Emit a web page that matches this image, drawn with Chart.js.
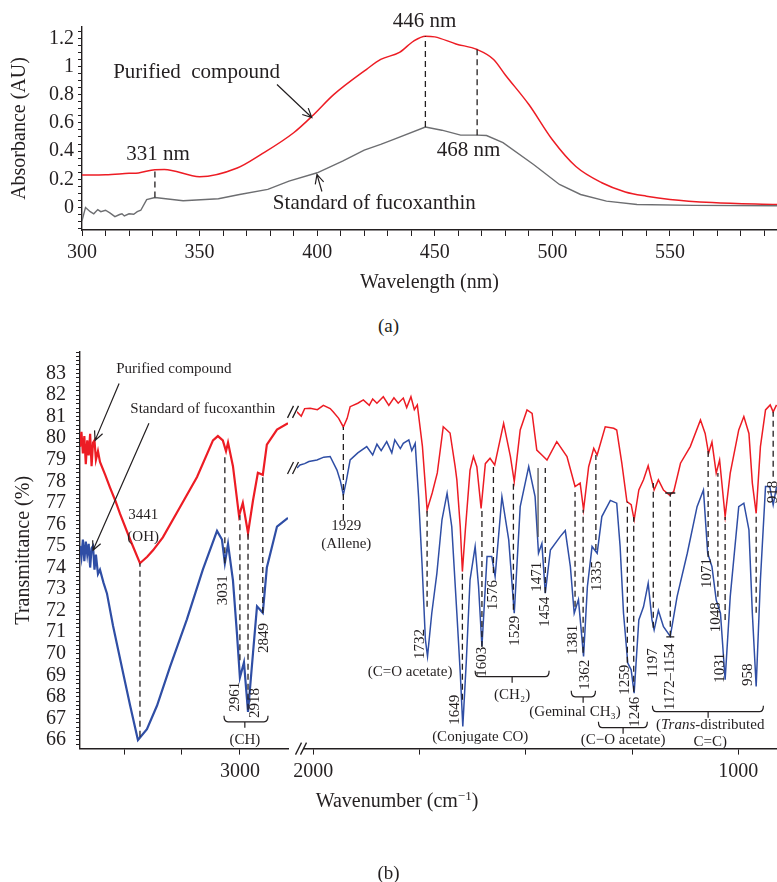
<!DOCTYPE html>
<html>
<head>
<meta charset="utf-8">
<title>Fucoxanthin UV-Vis and IR spectra</title>
<script src="https://cdn.jsdelivr.net/npm/chart.js@4.4.1/dist/chart.umd.min.js"></script>
<style>
  body { margin: 0; background: #fff; }
  #wrap { position: relative; width: 777px; height: 882px; overflow: hidden; font-family: 'Liberation Serif', 'Times New Roman', serif; color: #231f20; }
  #wrap canvas { position: absolute; left: 0; }
  .cap { position: absolute; left: 0; width: 777px; text-align: center; font-size: 19px; line-height: 22px; }
  .xt { position: absolute; left: 397px; top: 800px; transform: translate(-50%, -50%); font-size: 20px; white-space: nowrap; }
  .xt sup { font-size: 13px; }
</style>
</head>
<body>
<div id="wrap">
  <canvas id="uvChart" width="777" height="300" style="top:0"></canvas>
  <div class="cap" style="top:315px">(a)</div>
  <canvas id="irRight" width="777" height="552" style="top:330px"></canvas>
  <canvas id="irLeft" width="290" height="552" style="top:330px"></canvas>
  <div class="xt">Wavenumber (cm<sup>−1</sup>)</div>
  <div class="cap" style="top:862px">(b)</div>
</div>
<script>
// ── (a) UV-Vis absorbance ───────────────────────────────────
const uvRedNm  = [300, 310, 320, 324, 331, 335, 350, 366, 376, 390, 398, 407, 421, 427, 435, 441, 446, 450, 459, 468, 475, 480, 490, 500, 510, 521, 531, 540, 550, 568, 595.5];
const uvRedAbs = [0.23, 0.232, 0.242, 0.245, 0.268, 0.27, 0.218, 0.28, 0.375, 0.53, 0.65, 0.80, 0.98, 1.05, 1.10, 1.18, 1.215, 1.21, 1.16, 1.12, 1.05, 0.94, 0.73, 0.48, 0.29, 0.175, 0.11, 0.08, 0.057, 0.035, 0.02];
const uvStdNm  = [300, 301.5, 303.5, 305, 306.7, 308, 310, 312, 314, 316, 317, 318, 320, 322, 323.5, 325, 327.5, 331, 343, 358, 367, 379, 388, 400, 411, 420, 427, 432, 446, 453, 461, 468, 472, 479, 492, 503, 512, 523, 536, 560, 595.5];
const uvStdAbs = [-0.095, 0.0, -0.03, -0.045, -0.015, -0.03, -0.02, -0.04, -0.065, -0.05, -0.045, -0.06, -0.045, -0.048, -0.03, -0.02, 0.055, 0.07, 0.047, 0.062, 0.092, 0.128, 0.187, 0.246, 0.33, 0.406, 0.447, 0.48, 0.57, 0.548, 0.513, 0.513, 0.51, 0.46, 0.305, 0.163, 0.092, 0.045, 0.021, 0.015, 0.012];
const uvNmLabels  = [300, 350, 400, 450, 500, 550];
const uvAbsLabels = [0, 0.2, 0.4, 0.6, 0.8, 1, 1.2];

// ── (b) IR transmittance, left segment (O–H / C–H region) ─────
const irRedLX  = [3552, 3547, 3542, 3537, 3532, 3527, 3522, 3517, 3512, 3507, 3502, 3497, 3490, 3483, 3465, 3448, 3430, 3414, 3379, 3345, 3320, 3300, 3266, 3207, 3148, 3093, 3076, 3059, 3048, 3041, 3024, 3003, 2990, 2972, 2955, 2938, 2921, 2907, 2872, 2834];
const irRedLY  = [79.6, 80.3, 79.3, 80.1, 78.8, 79.9, 79.2, 80.2, 78.7, 79.8, 79.9, 79.0, 79.4, 78.9, 78.3, 77.7, 77.1, 76.5, 75.3, 74.2, 74.5, 74.8, 75.4, 76.8, 78.2, 79.9, 80.1, 79.9, 79.4, 79.8, 78.7, 76.4, 77.0, 75.6, 77.1, 78.4, 78.3, 79.7, 80.4, 80.7];
const irBlueLX = [3552, 3547, 3542, 3537, 3532, 3527, 3522, 3517, 3512, 3507, 3502, 3497, 3490, 3483, 3471, 3459, 3438, 3403, 3379, 3352, 3321, 3286, 3241, 3183, 3128, 3079, 3062, 3052, 3041, 3024, 3010, 3000, 2986, 2972, 2955, 2941, 2921, 2907, 2872, 2834];
const irBlueLY = [75.0, 74.5, 75.3, 74.3, 75.2, 74.6, 75.1, 74.0, 74.9, 75.0, 73.9, 74.6, 73.7, 73.9, 73.3, 72.8, 71.3, 69.1, 67.6, 66.0, 66.5, 67.6, 69.4, 71.6, 73.9, 75.7, 75.3, 74.2, 75.1, 73.4, 70.9, 68.9, 69.6, 67.3, 70.0, 72.2, 71.9, 74.0, 75.9, 76.3];

// ── (b) IR transmittance, right segment (fingerprint region) ──
const irRedRX  = [2038, 2028, 2020, 2007, 1990, 1976, 1960, 1953, 1940, 1929, 1920, 1913, 1895, 1882, 1868, 1860, 1850, 1835, 1822, 1810, 1800, 1788, 1780, 1770, 1762, 1755, 1743, 1732, 1720, 1708, 1694, 1678, 1666, 1662, 1654, 1649, 1642, 1631, 1623, 1615, 1605, 1595, 1584, 1573, 1552, 1536, 1527, 1513, 1497, 1485, 1474, 1462, 1450, 1427, 1403, 1384, 1372, 1364, 1352, 1340, 1332, 1313, 1293, 1286, 1274, 1262, 1252, 1245, 1234, 1223, 1212, 1206, 1198, 1188, 1176, 1162, 1152, 1136, 1113, 1089, 1078, 1070, 1062, 1052, 1044, 1031, 1019, 999, 987, 975, 967, 958, 948, 936, 925, 918, 910];
const irRedRY  = [81.2, 81.0, 81.35, 81.37, 81.3, 81.5, 81.35, 81.2, 80.9, 80.5, 80.9, 81.44, 81.6, 81.75, 81.5, 81.8, 81.6, 81.9, 81.5, 81.85, 81.6, 81.84, 81.4, 81.9, 81.3, 81.52, 79.6, 76.66, 77.44, 78.37, 80.51, 80.22, 78.66, 78.05, 75.88, 73.8, 75.73, 78.5, 79.13, 78.66, 76.73, 78.8, 79.05, 78.74, 80.67, 79.13, 77.97, 80.36, 81.29, 81.13, 79.43, 79.2, 78.97, 79.82, 79.13, 77.74, 77.9, 76.66, 78.66, 79.51, 79.2, 80.51, 80.44, 80.36, 78.82, 77.04, 76.9, 76.2, 77.58, 78.05, 78.7, 78.2, 77.58, 78.05, 77.58, 77.35, 77.5, 78.82, 79.59, 80.82, 80.2, 79.28, 79.8, 78.36, 78.97, 76.35, 78.36, 80.36, 80.98, 80.2, 77.9, 76.5, 79.59, 81.29, 81.52, 81.2, 81.52];
const irBlueRX = [2038, 2031, 2020, 2010, 1991, 1975, 1960, 1944, 1936, 1929, 1922, 1913, 1895, 1874, 1860, 1850, 1840, 1827, 1815, 1808, 1795, 1788, 1775, 1768, 1760, 1752, 1744, 1736, 1731, 1721, 1709, 1697, 1685, 1674, 1662, 1654, 1648, 1640, 1631, 1619, 1611, 1603, 1591, 1580, 1572, 1556, 1540, 1527, 1513, 1493, 1478, 1470, 1462, 1454, 1442, 1419, 1407, 1395, 1386, 1376, 1364, 1355, 1344, 1332, 1321, 1301, 1286, 1278, 1270, 1260, 1252, 1245, 1234, 1223, 1212, 1203, 1198, 1188, 1176, 1160, 1144, 1120, 1097, 1082, 1072, 1062, 1052, 1042, 1031, 1019, 999, 987, 975, 967, 958, 948, 936, 926, 918, 910];
const irBlueRY = [78.6, 78.74, 78.8, 78.9, 78.97, 79.1, 79.13, 78.5, 78.0, 77.35, 78.0, 78.97, 79.3, 79.59, 79.2, 79.7, 79.4, 79.82, 79.3, 79.9, 79.5, 79.74, 79.9, 79.4, 79.74, 77.27, 74.19, 70.64, 69.87, 71.87, 73.72, 76.2, 77.43, 75.88, 71.87, 69.1, 66.63, 69.56, 73.42, 74.96, 73.12, 70.34, 74.5, 74.5, 73.57, 77.27, 75.27, 71.87, 76.81, 78.66, 77.27, 74.65, 75.1, 72.8, 74.8, 75.42, 75.7, 74.03, 71.87, 72.5, 69.87, 73.1, 74.96, 74.65, 76.35, 77.1, 76.97, 74.96, 71.87, 69.56, 69.25, 68.17, 71.56, 72.17, 73.26, 71.56, 71.1, 72.0, 71.25, 70.8, 72.64, 74.65, 76.81, 77.58, 74.65, 74.03, 72.49, 71.87, 68.79, 72.64, 76.81, 76.97, 75.73, 71.87, 68.48, 73.42, 77.74, 77.74, 76.89, 77.74];

const irLeftTicks   = [3400, 3200, 3000];
const irLeftLabels  = [3000];
const irRightTicks  = [2000, 1750, 1500, 1250, 1000];
const irRightLabels = [2000, 1000];
const irTLabels     = [66, 67, 68, 69, 70, 71, 72, 73, 74, 75, 76, 77, 78, 79, 80, 81, 82, 83];

// ── Peak annotations ────────────────────────────────────────
const uvNotes = {
  dashes: [{ x: 331, y1: 0.07, y2: 0.27 }, { x: 446, y1: 0.57, y2: 1.215 }, { x: 468, y1: 0.513, y2: 1.12 }],
  texts: [
    { x: 332.3, y: 0.376, t: '331 nm' }, { x: 445.6, y: 1.32, t: '446 nm' }, { x: 464.3, y: 0.406, t: '468 nm' },
    { x: 348.7, y: 0.957, t: 'Purified  compound' }, { x: 424.3, y: 0.028, t: 'Standard of fucoxanthin' }
  ],
  arrows: [{ x1: 382.9, y1: 0.872, x2: 397.7, y2: 0.638 }, { x1: 402, y1: 0.113, x2: 399.9, y2: 0.234 }]
};

const irLeftNotes = {
  dashes: [
    { x: 3345, y1: 66.15, y2: 74.2 }, { x: 3052, y1: 74.2, y2: 79.3 }, { x: 3000, y1: 69.7, y2: 76.43 },
    { x: 2972, y1: 67.4, y2: 75.64 }, { x: 2921, y1: 71.89, y2: 78.19 }
  ],
  texts: [
    { x: 3334, y: 76.43, t: '3441' }, { x: 3334, y: 75.4, t: '(OH)' },
    { x: 3059, y: 72.95, t: '3031', rot: true }, { x: 3017, y: 68.0, t: '2961', rot: true },
    { x: 2948, y: 67.72, t: '2918', rot: true }, { x: 2917, y: 70.73, t: '2849', rot: true },
    { x: 2983, y: 66.0, t: '(CH)' },
    { x: 3228, y: 83.23, t: 'Purified compound' }, { x: 3128, y: 81.33, t: 'Standard of fucoxanthin' }
  ],
  braces: [{ x1: 3055, x2: 2903, xm: 2983, y: 66.84 }],
  arrows: [{ x1: 3417, y1: 82.54, x2: 3500, y2: 79.9 }, { x1: 3314, y1: 80.69, x2: 3507, y2: 74.8 }]
};

const irRightNotes = {
  dashes: [
    { x: 1929, y1: 76.19, y2: 80.5 }, { x: 1732, y1: 72.17, y2: 76.66 }, { x: 1649, y1: 67.86, y2: 73.74 },
    { x: 1603, y1: 70.31, y2: 76.75 }, { x: 1576, y1: 73.74, y2: 78.74 }, { x: 1529, y1: 72.03, y2: 77.95 },
    { x: 1471, y1: 75.4, y2: 78.6, solid: true }, { x: 1454, y1: 72.81, y2: 78.6 },
    { x: 1384, y1: 72.17, y2: 77.49 }, { x: 1365, y1: 70.04, y2: 76.66 }, { x: 1335, y1: 74.8, y2: 79.2 },
    { x: 1261, y1: 69.58, y2: 77.03 }, { x: 1246, y1: 68.23, y2: 76.33 }, { x: 1200, y1: 71.2, y2: 77.9 },
    { x: 1160, y1: 70.78, y2: 77.44, caps: true }, { x: 1071, y1: 74.48, y2: 79.43 },
    { x: 1048, y1: 72.63, y2: 78.37 }, { x: 1031, y1: 71.56, y2: 76.33 }, { x: 958, y1: 71.89, y2: 76.52 },
    { x: 918, y1: 78.19, y2: 81.2 }
  ],
  texts: [
    { x: 1922, y: 75.92, t: '1929' }, { x: 1922, y: 75.08, t: '(Allene)' },
    { x: 1748, y: 70.45, t: '1732', rot: true }, { x: 1772, y: 69.16, t: '(C=O acetate)' },
    { x: 1666, y: 67.4, t: '1649', rot: true }, { x: 1607, y: 66.15, t: '(Conjugate CO)' },
    { x: 1602, y: 69.62, t: '1603', rot: true }, { x: 1576, y: 72.72, t: '1576', rot: true },
    { x: 1525, y: 71.06, t: '1529', rot: true }, { x: 1473, y: 73.56, t: '1471', rot: true },
    { x: 1454, y: 71.94, t: '1454', rot: true }, { x: 1532, y: 68.1, t: '(CH₂)' },
    { x: 1388, y: 70.64, t: '1381', rot: true }, { x: 1360, y: 69.02, t: '1362', rot: true },
    { x: 1384, y: 67.31, t: '(Geminal CH₃)' }, { x: 1332, y: 73.6, t: '1335', rot: true },
    { x: 1266, y: 68.79, t: '1259', rot: true }, { x: 1242, y: 67.31, t: '1246', rot: true },
    { x: 1271, y: 66.0, t: '(C−O acetate)' }, { x: 1200, y: 69.57, t: '1197', rot: true },
    { x: 1160, y: 68.93, t: '1172–1154', rot: true }, { x: 1073, y: 73.74, t: '1071', rot: true },
    { x: 1052, y: 71.69, t: '1048', rot: true }, { x: 1042, y: 69.34, t: '1031', rot: true },
    { x: 976, y: 69.02, t: '958', rot: true }, { x: 918, y: 77.49, t: '918', rot: true },
    { x: 1066, y: 66.7, parts: [['(', ''], ['Trans', 'italic '], ['-distributed', '']] },
    { x: 1066, y: 65.92, t: 'C=C)' }
  ],
  braces: [
    { x1: 1619, x2: 1445, xm: 1532, y: 68.93 }, { x1: 1393, x2: 1336, xm: 1365, y: 68.0 },
    { x1: 1329, x2: 1214, xm: 1271, y: 66.57 }, { x1: 1202, x2: 941, xm: 1071, y: 67.31 }
  ],
  arrows: [],
  breaks: true
};

const INK = '#231f20';
const RED = '#ed1c24';
const GRAY = '#6d6e71';
const BLUE = '#2f4ea5';
const SERIF = "'Liberation Serif', 'Times New Roman', serif";

Chart.defaults.font.family = SERIF;
Chart.defaults.color = INK;

function pts(xs, ys) {
  return xs.map((x, i) => ({ x, y: ys[i] }));
}

function isIn(list, v) {
  return list.find(t => Math.abs(t - v) < 1e-6);
}

function steps(from, to, step) {
  const out = [];
  for (let v = from; v <= to + 1e-9; v += step) out.push(Math.round(v * 100) / 100);
  return out;
}

function line(data, color, width, smooth) {
  return {
    data, borderColor: color, borderWidth: width, showLine: true, pointRadius: 0,
    tension: 0, cubicInterpolationMode: smooth ? 'monotone' : 'default'
  };
}

// shared axis pieces
const axisBorder = { display: true, color: INK, width: 1.4 };
function axisGrid(len) {
  return { drawOnChartArea: false, drawTicks: true, tickLength: len, color: INK, tickColor: INK, tickWidth: 1 };
}

// ── Annotation plugin (dashed peak markers, labels, braces, arrows) ──
function notesPlugin(notes, size) {
  return {
    id: 'notes',
    afterDatasetsDraw(chart) {
      const { ctx } = chart;
      const sx = v => chart.scales.x.getPixelForValue(v);
      const sy = v => chart.scales.y.getPixelForValue(v);
      ctx.save();
      ctx.strokeStyle = INK;
      ctx.fillStyle = INK;
      ctx.lineWidth = 1.3;

      (notes.dashes || []).forEach(d => {
        const x = sx(d.x), ya = sy(d.y1), yb = sy(d.y2);
        ctx.setLineDash(d.solid ? [] : [6, 4]);
        ctx.strokeStyle = d.solid ? '#555' : INK;
        ctx.beginPath(); ctx.moveTo(x, ya); ctx.lineTo(x, yb); ctx.stroke();
        if (d.caps) {
          ctx.setLineDash([]);
          ctx.beginPath();
          ctx.moveTo(x - 5, yb); ctx.lineTo(x + 5, yb);
          ctx.moveTo(x - 4, ya); ctx.lineTo(x + 4, ya);
          ctx.stroke();
        }
      });
      ctx.setLineDash([]);
      ctx.strokeStyle = INK;

      ctx.textAlign = 'center';
      ctx.textBaseline = 'middle';
      (notes.texts || []).forEach(n => {
        const x = sx(n.x), y = sy(n.y);
        if (n.parts) {
          const widths = n.parts.map(([s, st]) => { ctx.font = `${st}${size}px ${SERIF}`; return ctx.measureText(s).width; });
          let cx = x - widths.reduce((a, b) => a + b, 0) / 2;
          ctx.textAlign = 'left';
          n.parts.forEach(([s, st], i) => {
            ctx.font = `${st}${size}px ${SERIF}`;
            ctx.fillText(s, cx, y);
            cx += widths[i];
          });
          ctx.textAlign = 'center';
          return;
        }
        ctx.font = `${size}px ${SERIF}`;
        if (n.rot) {
          ctx.save();
          ctx.translate(x, y);
          ctx.rotate(-Math.PI / 2);
          ctx.fillText(n.t, 0, 0);
          ctx.restore();
        } else {
          ctx.fillText(n.t, x, y);
        }
      });

      ctx.lineWidth = 1.2;
      (notes.braces || []).forEach(b => {
        const x1 = sx(b.x1), x2 = sx(b.x2), xm = sx(b.xm), y = sy(b.y);
        ctx.beginPath();
        ctx.moveTo(x1, y - 6);
        ctx.quadraticCurveTo(x1, y, x1 + 4, y);
        ctx.lineTo(x2 - 4, y);
        ctx.quadraticCurveTo(x2, y, x2, y - 6);
        ctx.moveTo(xm, y);
        ctx.lineTo(xm, y + 6);
        ctx.stroke();
      });

      (notes.arrows || []).forEach(a => {
        const x1 = sx(a.x1), y1 = sy(a.y1), x2 = sx(a.x2), y2 = sy(a.y2);
        const ang = Math.atan2(y2 - y1, x2 - x1);
        ctx.beginPath();
        ctx.moveTo(x1, y1); ctx.lineTo(x2, y2);
        ctx.moveTo(x2 - 10 * Math.cos(ang - 0.45), y2 - 10 * Math.sin(ang - 0.45));
        ctx.lineTo(x2, y2);
        ctx.lineTo(x2 - 10 * Math.cos(ang + 0.45), y2 - 10 * Math.sin(ang + 0.45));
        ctx.stroke();
      });

      // axis break marks "//"
      if (notes.breaks) {
        const slash = (cx, cy) => {
          ctx.beginPath();
          [-2.5, 2.5].forEach(o => { ctx.moveTo(cx + o - 3, cy + 6); ctx.lineTo(cx + o + 3, cy - 6); });
          ctx.stroke();
        };
        ctx.lineWidth = 1.3;
        chart.data.datasets.forEach(ds => {
          const p = ds.data[0];
          slash(sx(p.x) - 4, sy(p.y));
        });
        const ay = chart.chartArea.bottom;
        ctx.fillStyle = '#fff';
        ctx.fillRect(chart.chartArea.left - 2, ay - 2, 8, 4);
        slash(chart.chartArea.left + 4, ay);
      }
      ctx.restore();
    }
  };
}

// ── (a) UV-Vis chart ────────────────────────────────────────
new Chart(document.getElementById('uvChart'), {
  type: 'scatter',
  data: {
    datasets: [
      line(pts(uvStdNm, uvStdAbs), GRAY, 1.4, false),
      line(pts(uvRedNm, uvRedAbs), RED, 1.5, true)
    ]
  },
  options: {
    responsive: false,
    animation: false,
    layout: { padding: { top: 27, right: 0, bottom: 0, left: 0 } },
    plugins: { legend: { display: false }, tooltip: { enabled: false } },
    scales: {
      x: {
        type: 'linear', min: 300, max: 595.5, bounds: 'data',
        afterBuildTicks: s => { s.ticks = steps(300, 590, 10).map(v => ({ value: v })); },
        afterFit: s => { s.height = 70; },
        ticks: { autoSkip: false, maxRotation: 0, padding: 5, font: { size: 20 },
          callback: v => (isIn(uvNmLabels, v) !== undefined ? String(v) : '') },
        grid: axisGrid(6), border: axisBorder,
        title: { display: true, text: 'Wavelength (nm)', font: { size: 20 }, padding: { top: 0, bottom: 5 } }
      },
      y: {
        type: 'linear', min: -0.16, max: 1.28, bounds: 'data',
        afterBuildTicks: s => { s.ticks = steps(-0.15, 1.25, 0.05).map(v => ({ value: v })); },
        afterFit: s => { s.width = 82; },
        ticks: { autoSkip: false, padding: 4, font: { size: 20 },
          callback: v => { const m = isIn(uvAbsLabels, v); return m === undefined ? '' : String(m); } },
        grid: axisGrid(4), border: axisBorder,
        title: { display: true, text: 'Absorbance (AU)', font: { size: 20 }, padding: { top: 8, bottom: 0 } }
      }
    }
  },
  plugins: [notesPlugin(uvNotes, 21)]
});

// ── (b) IR chart, split across a broken wavenumber axis ─────
const irY = {
  type: 'linear', min: 65.6, max: 84, bounds: 'data',
  afterBuildTicks: s => { s.ticks = steps(65.8, 84, 0.2).map(v => ({ value: v })); },
  ticks: { autoSkip: false, padding: 10, font: { size: 20 },
    callback: v => { const m = isIn(irTLabels, v); return m === undefined ? '' : String(m); } },
  grid: axisGrid(4), border: axisBorder
};

new Chart(document.getElementById('irLeft'), {
  type: 'scatter',
  data: {
    datasets: [
      line(pts(irRedLX, irRedLY), RED, 2.2, false),
      line(pts(irBlueLX, irBlueLY), BLUE, 2.2, false)
    ]
  },
  options: {
    responsive: false,
    animation: false,
    layout: { padding: { top: 21.4, right: 2, bottom: 0, left: 0 } },
    plugins: { legend: { display: false }, tooltip: { enabled: false } },
    scales: {
      x: {
        type: 'linear', reverse: true, min: 2834, max: 3552, bounds: 'data',
        afterBuildTicks: s => { s.ticks = irLeftTicks.map(v => ({ value: v })); },
        afterFit: s => { s.height = 133.4; },
        ticks: { autoSkip: false, maxRotation: 0, padding: 5, font: { size: 20 },
          callback: v => (isIn(irLeftLabels, v) !== undefined ? String(v) : '') },
        grid: axisGrid(6), border: axisBorder
      },
      y: {
        ...irY,
        afterFit: s => { s.width = 80; },
        title: { display: true, text: 'Transmittance (%)', font: { size: 20 }, padding: { top: 12, bottom: 0 } }
      }
    }
  },
  plugins: [notesPlugin(irLeftNotes, 15)]
});

new Chart(document.getElementById('irRight'), {
  type: 'scatter',
  data: {
    datasets: [
      line(pts(irRedRX, irRedRY), RED, 1.5, false),
      line(pts(irBlueRX, irBlueRY), BLUE, 1.5, false)
    ]
  },
  options: {
    responsive: false,
    animation: false,
    layout: { padding: { top: 21.4, right: 0, bottom: 0, left: 297 } },
    plugins: { legend: { display: false }, tooltip: { enabled: false } },
    scales: {
      x: {
        type: 'linear', reverse: true, min: 909, max: 2038, bounds: 'data',
        afterBuildTicks: s => { s.ticks = irRightTicks.map(v => ({ value: v })); },
        afterFit: s => { s.height = 133.4; },
        ticks: { autoSkip: false, maxRotation: 0, padding: 5, font: { size: 20 },
          callback: v => (isIn(irRightLabels, v) !== undefined ? String(v) : '') },
        grid: axisGrid(6), border: axisBorder
      },
      y: { ...irY, display: false }
    }
  },
  plugins: [notesPlugin(irRightNotes, 15)]
});
</script>
</body>
</html>
